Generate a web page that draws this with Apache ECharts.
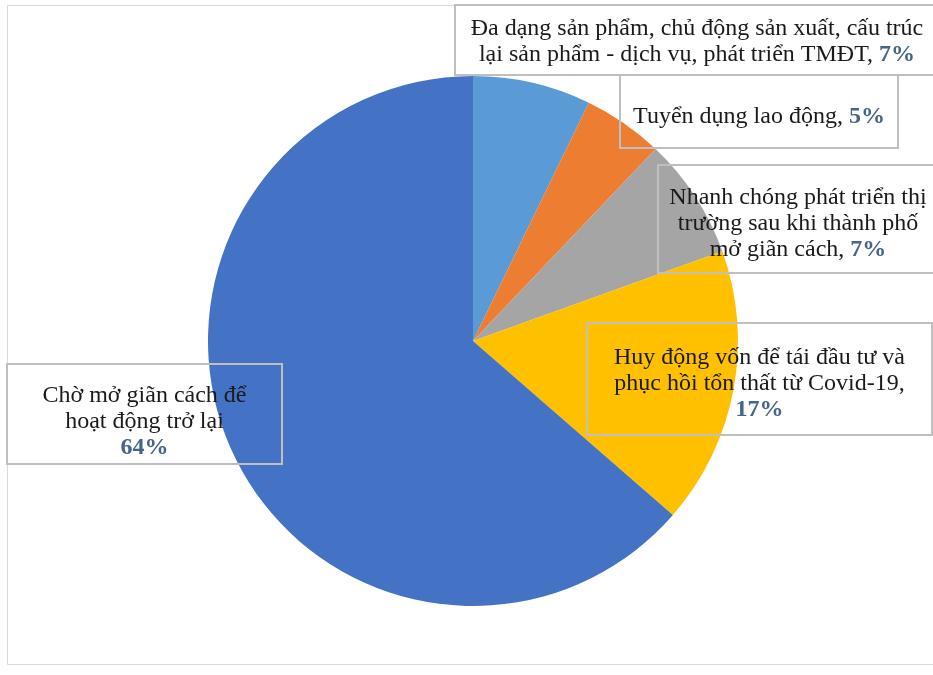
<!DOCTYPE html>
<html><head><meta charset="utf-8">
<script src="https://cdn.jsdelivr.net/npm/echarts@6/dist/echarts.min.js"></script>
<style>html,body{margin:0;padding:0;background:#fff}#c{width:933px;height:675px}</style>
</head><body><div id="c"></div>
<script>
// Category labels (line breaks as in the original boxes)
const categories = [
  "Đa dạng sản phẩm, chủ động sản xuất, cấu trúc\nlại sản phẩm - dịch vụ, phát triển TMĐT,",
  "Tuyển dụng lao động,",
  "Nhanh chóng phát triển thị\ntrường sau khi thành phố\nmở giãn cách,",
  "Huy động vốn để tái đầu tư và\nphục hồi tổn thất từ Covid-19,\n",
  "Chờ mở giãn cách để\nhoạt động trở lại\n"
];
// Shares in percent (round to the printed labels)
const values = [7.2, 4.9, 7.4, 16.9, 63.6];

// Styling / layout (not data)
const colors = ['#5B9BD5', '#ED7D31', '#A5A5A5', '#FFC000', '#4472C4'];
const labelBoxes = [
  { x: 455, y: 5,   w: 484, h: 70,  dy: 2 },
  { x: 620, y: 75,  w: 278, h: 73,  dy: 5 },
  { x: 658, y: 165, w: 280, h: 108, dy: 5 },
  { x: 587, y: 323, w: 345, h: 112, dy: 5 },
  { x: 7,   y: 364, w: 275, h: 100, dy: 8 }
];
const LH = 26, FS = 24, PADX = 2;

const chart = echarts.init(document.getElementById('c'), null, { renderer: 'canvas' });

const data = categories.map((name, i) => {
  const b = labelBoxes[i];
  const nLines = name.split('\n').length;
  const padTop = Math.max(0, (b.h - nLines * LH) / 2 + b.dy);
  const padBot = Math.max(0, b.h - nLines * LH - padTop);
  return {
    name, value: values[i],
    itemStyle: { color: colors[i] },
    label: {
      width: b.w - 2 * PADX,
      padding: [padTop, PADX, padBot, PADX]
    }
  };
});

chart.setOption({
  animation: false,
  backgroundColor: '#ffffff',
  graphic: [{
    type: 'rect', silent: true, z: -1,
    shape: { x: 7.5, y: 5.5, width: 940, height: 659 },
    style: { fill: 'none', stroke: '#d9d9d9', lineWidth: 1 }
  }],
  series: [{
    type: 'pie',
    center: [473, 341],
    radius: 265,
    startAngle: 90,
    clockwise: true,
    avoidLabelOverlap: false,
    silent: true,
    itemStyle: { borderWidth: 0 },
    labelLine: { show: false },
    label: {
      show: true,
      position: 'inside',
      align: 'center',
      backgroundColor: 'transparent',
      borderColor: '#bfbfbf',
      borderWidth: 1,
      fontFamily: 'Liberation Serif',
      fontSize: FS,
      lineHeight: LH,
      formatter: p => {
        const lines = p.name.split('\n');
        const last = lines.pop();
        const pct = `{p|${Math.round(p.percent)}%}`;
        const head = lines.map(l => `{t|${l}}`);
        const tail = last === '' ? pct : `{t|${last} }${pct}`;
        return head.concat([tail]).join('\n');
      },
      rich: {
        t: { fontFamily: 'Liberation Serif', fontSize: FS, lineHeight: LH, color: '#1a1a1a', align: 'center' },
        p: { fontFamily: 'Liberation Serif', fontSize: FS, lineHeight: LH, color: '#46658a', fontWeight: 'bold', align: 'center' }
      }
    },
    labelLayout: params => {
      const b = labelBoxes[params.dataIndex];
      return { x: b.x + b.w / 2, y: b.y + b.h / 2, align: 'center', verticalAlign: 'middle' };
    },
    data
  }]
});
</script>
</body></html>
